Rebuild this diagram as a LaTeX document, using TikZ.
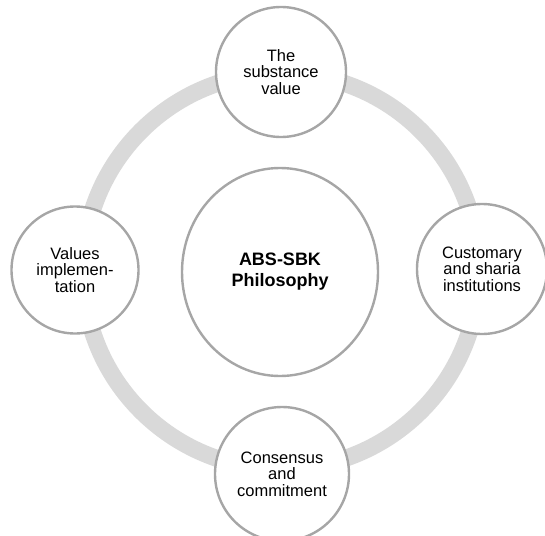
\documentclass[tikz,border=0pt]{standalone}
\usepackage{fontspec}
\setmainfont{Liberation Sans}
\usetikzlibrary{shapes.geometric}
\begin{document}
\begin{tikzpicture}[x=1pt,y=-1pt,
  bubble/.style={circle, draw=gray!70, line width=2.4pt, fill=white, inner sep=0pt,
    align=center, font=\fontsize{16.5}{16.5}\selectfont},
  hub/.style={ellipse, draw=gray!70, line width=2.4pt, fill=white, inner sep=0pt,
    align=center, font=\fontsize{18}{21}\selectfont\bfseries}]
\useasboundingbox (0,0) rectangle (545,535);
\coordinate (o) at (281,271);
\draw[gray!30, line width=17pt] (o) circle[radius=198];
\node[hub, minimum width=196pt, minimum height=208pt] (hub) at (280,272) {ABS-SBK\\Philosophy};
\node[bubble, minimum size=130pt] (top) at (281,72) {The\\substance\\value};
\node[bubble, minimum size=127pt] (left) at (75,270) {Values\\implemen-\\tation};
\node[bubble, minimum size=130pt] (right) at (482,269) {Customary\\and sharia\\institutions};
\node[bubble, minimum size=134pt] (bottom) at (282,474) {Consensus\\and\\commitment};
\end{tikzpicture}
\end{document}
